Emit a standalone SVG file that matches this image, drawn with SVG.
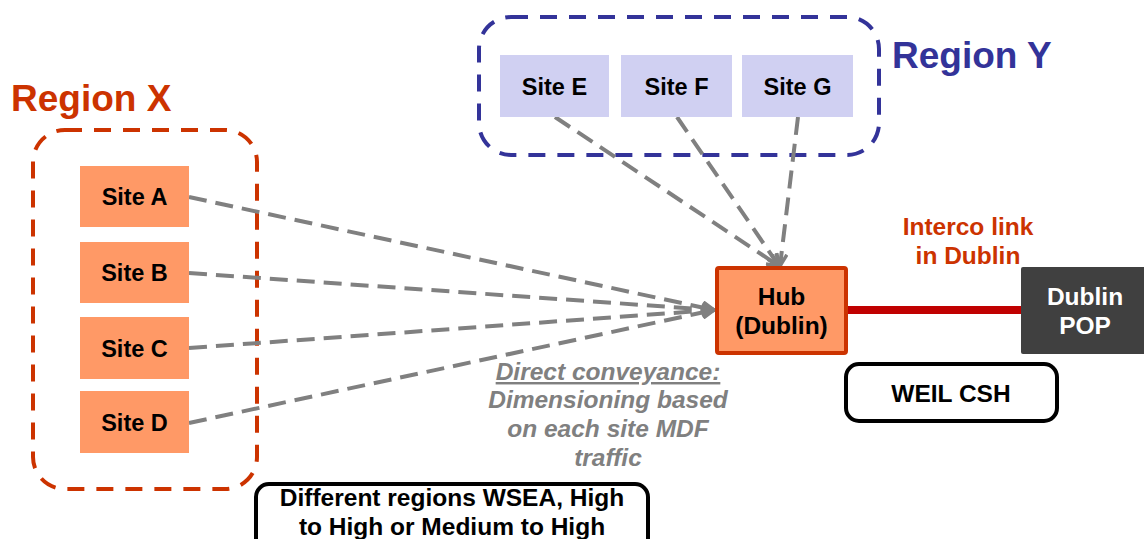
<svg xmlns="http://www.w3.org/2000/svg" width="1144" height="539" viewBox="0 0 1144 539">
<defs>
<style>
text{font-family:"Liberation Sans",Arial,sans-serif;font-weight:bold;font-size:24.5px;text-anchor:middle}
.site{font-size:23.5px}
.siteX{fill:#FF9966}
.siteY{fill:#D0D0F2}
.conn{stroke:#808080;stroke-width:4;stroke-dasharray:18 9;fill:none;marker-end:url(#arr)}
.title{font-size:37px;text-anchor:start}
.gray{fill:#808080;font-style:italic}
</style>
<marker id="arr" viewBox="0 0 14 14" refX="13" refY="7" markerWidth="14" markerHeight="14" markerUnits="userSpaceOnUse" orient="auto">
<path d="M1,1.5 L13,7 L1,12.5" fill="none" stroke="#808080" stroke-width="3.5"/>
</marker>
</defs>
<rect width="1144" height="539" fill="#fff"/>

<g id="regionX">
<rect x="33" y="130" width="224" height="359" rx="32" fill="none" stroke="#CC3300" stroke-width="4" stroke-dasharray="17 12"/>
<text class="title" x="11" y="111" fill="#CC3300">Region X</text>
</g>
<g id="regionY">
<rect x="479" y="17" width="400" height="138" rx="32" fill="none" stroke="#333399" stroke-width="4" stroke-dasharray="17 12"/>
<text class="title" x="892" y="68" fill="#333399">Region Y</text>
</g>

<g id="connectors">
<line class="conn" x1="189" y1="197" x2="714" y2="310"/>
<line class="conn" x1="189" y1="273" x2="714" y2="310"/>
<line class="conn" x1="189" y1="348" x2="714" y2="310"/>
<line class="conn" x1="189" y1="423" x2="714" y2="310"/>
<line class="conn" x1="555" y1="117" x2="779" y2="266"/>
<line class="conn" x1="677" y1="117" x2="779" y2="266"/>
<line class="conn" x1="798" y1="117" x2="780" y2="266"/>
<line x1="847" y1="310" x2="1021" y2="310" stroke="#C00000" stroke-width="8"/>
</g>

<g id="siteA"><rect class="siteX" x="80" y="166" width="109" height="61"/><text class="site" x="134.5" y="205">Site A</text></g>
<g id="siteB"><rect class="siteX" x="80" y="242" width="109" height="61"/><text class="site" x="134.5" y="281">Site B</text></g>
<g id="siteC"><rect class="siteX" x="80" y="317" width="109" height="62"/><text class="site" x="134.5" y="356.5">Site C</text></g>
<g id="siteD"><rect class="siteX" x="80" y="391" width="109" height="62"/><text class="site" x="134.5" y="430.5">Site D</text></g>

<g id="siteE"><rect class="siteY" x="500" y="55" width="109" height="62"/><text class="site" x="554.5" y="94.5">Site E</text></g>
<g id="siteF"><rect class="siteY" x="621" y="55" width="111" height="62"/><text class="site" x="676.5" y="94.5">Site F</text></g>
<g id="siteG"><rect class="siteY" x="742" y="55" width="111" height="62"/><text class="site" x="797.5" y="94.5">Site G</text></g>

<g id="hub">
<rect x="717" y="268" width="129" height="85" rx="2" fill="#FF9966" stroke="#CC3300" stroke-width="4"/>
<text x="781.5" y="305">Hub</text>
<text x="781.5" y="334">(Dublin)</text>
</g>

<g id="dublinPOP">
<rect x="1021" y="267" width="130" height="87" rx="2" fill="#404040"/>
<text x="1085" y="305" fill="#fff">Dublin</text>
<text x="1085" y="334" fill="#fff">POP</text>
</g>

<g id="intercoLabel">
<text x="968" y="235" fill="#CC3300">Interco link</text>
<text x="968" y="264" fill="#CC3300">in Dublin</text>
</g>

<g id="weil">
<rect x="846" y="364" width="211" height="57" rx="13" fill="#fff" stroke="#000" stroke-width="4"/>
<text x="951" y="402">WEIL CSH</text>
</g>

<g id="conveyance">
<text class="gray" x="608" y="380" text-decoration="underline">Direct conveyance:</text>
<text class="gray" x="608" y="408">Dimensioning based</text>
<text class="gray" x="608" y="437">on each site MDF</text>
<text class="gray" x="608" y="466">traffic</text>
</g>

<g id="regionsNote">
<rect x="256" y="484" width="392" height="70" rx="13" fill="#fff" stroke="#000" stroke-width="4"/>
<text x="452" y="506">Different regions WSEA, High</text>
<text x="452" y="535">to High or Medium to High</text>
</g>
</svg>
